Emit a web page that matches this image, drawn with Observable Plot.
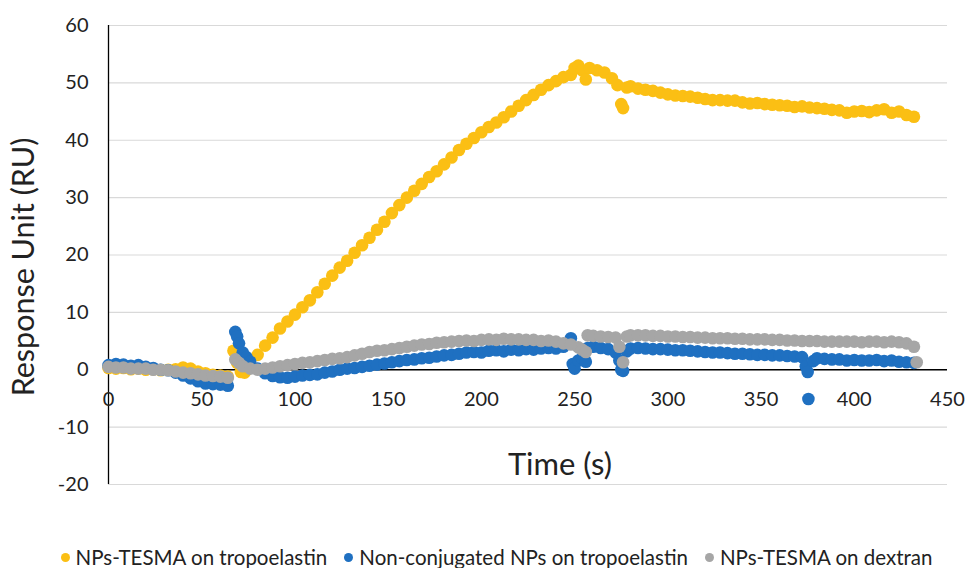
<!DOCTYPE html>
<html>
<head>
<meta charset="utf-8">
<script src="https://cdn.jsdelivr.net/npm/d3@7"></script>
<script src="https://cdn.jsdelivr.net/npm/@observablehq/plot@0.6"></script>
<style>
  html, body { margin: 0; padding: 0; background: #fff; }
  #chart { width: 967px; }
  .legend { display: flex; justify-content: center; align-items: center; gap: 17px;
            font-family: Lato, "Open Sans", sans-serif; font-size: 20.5px; color: #222;
            margin-top: 20px; line-height: 24px; padding-left: 26px; }
  .legend span.item { display: inline-flex; align-items: center; gap: 6px; }
  .legend i { display: inline-block; width: 9px; height: 9px; border-radius: 50%; }
</style>
</head>
<body>
<div id="chart"></div>
<script>
const seriesNames = ["NPs-TESMA on tropoelastin", "Non-conjugated NPs on tropoelastin", "NPs-TESMA on dextran"];
const seriesColors = ["#fbbf14", "#1f70c1", "#a6a6a6"];
const xTicks = [0, 50, 100, 150, 200, 250, 300, 350, 400, 450];
const yTicks = [-20, -10, 0, 10, 20, 30, 40, 50, 60];

// [time (s), response (RU)]
const tesmaTropo = [
  [0,0.3],[4,0.2],[8,0.3],[12,0.1],[16,0.2],[20,0.0],[24,0.1],[28,-0.1],[32,0.0],[36,0.1],
  [40,0.4],[44,0.2],[48,-0.3],[52,-0.6],[56,-0.9],[60,-1.0],[64,-1.2],
  [67,3.3],[69,1.2],[71,-0.4],[73,-0.5],[76,0.8],[80,2.6],[84,4.2],[88,5.6],[92,7.2],[96,8.4],
  [100,9.6],[104,10.9],[108,12.1],[112,13.5],[116,15.0],[120,16.4],[124,17.8],[128,19.0],
  [132,20.4],[136,21.7],[140,23.0],[144,24.4],[148,25.8],[152,27.3],[156,28.7],[160,30.0],
  [164,31.2],[168,32.4],[172,33.6],[176,34.6],[180,35.8],[184,37.0],[188,38.3],[192,39.4],
  [196,40.4],[200,41.4],[204,42.3],[208,43.1],[212,44.0],[216,45.0],[220,46.0],[224,47.0],
  [228,47.9],[232,48.8],[236,49.6],[240,50.3],[244,51.0],[248,51.4],[250,52.6],[252,53.0],
  [254,52.2],[256,50.6],[258,52.6],[262,52.2],[266,51.8],[270,50.8],[273,49.6],[275,46.3],
  [276,45.6],[278,49.2],[280,49.4],[284,49.0],[288,48.8],[292,48.6],[296,48.3],[300,48.0],
  [304,47.8],[308,47.7],[312,47.6],[316,47.4],[320,47.2],[324,47.0],[328,47.0],[332,46.9],
  [336,46.9],[340,46.6],[344,46.4],[348,46.5],[352,46.3],[356,46.2],[360,46.1],[364,46.0],
  [368,45.8],[372,45.9],[376,45.7],[380,45.6],[384,45.5],[388,45.3],[392,45.2],[396,44.8],
  [400,45.0],[404,45.1],[408,44.9],[412,45.2],[416,45.4],[420,44.8],[424,45.0],[428,44.4],[432,44.1]
];

const plainTropo = [
  [0,0.8],[4,1.0],[8,0.9],[12,0.7],[16,0.8],[20,0.5],[24,0.3],[28,0.0],[32,-0.1],[36,-0.5],
  [40,-1.0],[44,-1.5],[48,-2.0],[52,-2.4],[56,-2.5],[60,-2.6],[64,-2.8],
  [68,6.6],[69,5.8],[70,4.6],[72,3.0],[74,2.2],[76,1.4],[80,0.2],[84,-0.6],[88,-1.1],[92,-1.3],
  [96,-1.4],[100,-1.2],[104,-1.0],[108,-0.9],[112,-0.8],[116,-0.5],[120,-0.3],[124,0.0],
  [128,0.2],[132,0.3],[136,0.5],[140,0.7],[144,0.9],[148,1.1],[152,1.3],[156,1.5],[160,1.7],
  [164,1.8],[168,2.0],[172,2.1],[176,2.3],[180,2.5],[184,2.6],[188,2.8],[192,3.0],[196,3.1],
  [200,3.0],[204,3.3],[208,3.4],[212,3.2],[216,3.5],[220,3.4],[224,3.6],[228,3.5],[232,3.7],
  [236,3.8],[240,3.7],[244,4.0],[248,5.5],[249,1.0],[250,0.2],[252,1.6],[254,2.0],[256,1.4],
  [257,3.8],[260,4.0],[264,3.8],[268,3.6],[272,3.0],[274,1.6],[275,0.0],[276,-0.2],[278,3.2],
  [280,3.7],[284,3.8],[288,3.7],[292,3.6],[296,3.6],[300,3.5],[304,3.4],[308,3.4],[312,3.3],
  [316,3.2],[320,3.1],[324,3.0],[328,3.0],[332,2.9],[336,2.8],[340,2.8],[344,2.7],[348,2.6],
  [352,2.6],[356,2.5],[360,2.5],[364,2.4],[368,2.3],[372,2.2],[374,0.6],[375,-0.4],[375.4,-5.1],
  [378,1.5],[380,2.0],[384,1.9],[388,1.8],[392,1.8],[396,1.6],[400,1.7],[404,1.6],[408,1.6],
  [412,1.7],[416,1.5],[420,1.6],[424,1.4],[428,1.3],[432,1.2]
];

const tesmaDextran = [
  [0,0.5],[4,0.4],[8,0.4],[12,0.2],[16,0.2],[20,0.2],[24,0.0],[28,0.0],[32,-0.1],[36,-0.3],
  [40,-0.5],[44,-0.6],[48,-0.8],[52,-1.0],[56,-1.1],[60,-1.2],[64,-1.4],
  [68,1.8],[70,1.2],[72,0.6],[76,0.2],[80,0.0],[84,0.2],[88,0.4],[92,0.6],[96,0.8],[100,1.0],
  [104,1.2],[108,1.3],[112,1.5],[116,1.7],[120,1.9],[124,2.0],[128,2.2],[132,2.5],[136,2.8],
  [140,3.1],[144,3.3],[148,3.4],[152,3.6],[156,3.8],[160,4.0],[164,4.2],[168,4.4],[172,4.5],
  [176,4.7],[180,4.8],[184,4.9],[188,5.0],[192,5.1],[196,5.0],[200,5.2],[204,5.3],[208,5.2],
  [212,5.4],[216,5.3],[220,5.3],[224,5.2],[228,5.2],[232,5.0],[236,5.1],[240,4.9],[244,4.6],
  [248,4.4],[252,3.9],[254,3.5],[256,3.1],[257,6.0],[260,5.9],[264,5.8],[268,5.7],[272,5.6],
  [274,4.0],[276,1.3],[278,5.8],[280,6.0],[284,6.0],[288,6.0],[292,5.9],[296,5.9],[300,5.8],
  [304,5.8],[308,5.7],[312,5.7],[316,5.6],[320,5.6],[324,5.5],[328,5.5],[332,5.5],[336,5.4],
  [340,5.4],[344,5.3],[348,5.3],[352,5.3],[356,5.2],[360,5.2],[364,5.1],[368,5.1],[372,5.0],
  [376,5.0],[380,5.0],[384,4.9],[388,4.9],[392,4.9],[396,4.9],[400,4.9],[404,4.8],[408,4.9],
  [412,4.9],[416,4.8],[420,4.9],[424,4.8],[428,4.6],[432,4.0],[433.5,1.3]
];

const yLabel = "Response Unit (RU)";
const xLabel = "Time (s)";

const seriesData = [tesmaTropo, plainTropo, tesmaDextran];
const font = "Lato, 'Open Sans', sans-serif";

const dotMarks = seriesData.map((arr, i) =>
  Plot.dot(arr, {x: d => d[0], y: d => d[1], r: 6.3, fill: seriesColors[i], stroke: null})
);

const chart = Plot.plot({
  width: 967,
  height: 525,
  marginTop: 25,
  marginBottom: 41,
  marginLeft: 108,
  marginRight: 20,
  style: {fontFamily: font, fontSize: "20px", color: "#222", background: "#fff"},
  x: {domain: [0, 450], axis: null},
  y: {domain: [-20, 60], ticks: yTicks, label: null},
  marks: [
    Plot.gridY(yTicks, {stroke: "#d9d9d9", strokeOpacity: 1, strokeWidth: 1.2}),
    Plot.axisY(yTicks, {tickSize: 0, tickPadding: 20, label: null, fontSize: 20, fill: "#222", tickFormat: d => String(d)}),
    Plot.ruleY([0], {stroke: "#000", strokeWidth: 1.3}),
    Plot.ruleX([0], {stroke: "#000", strokeWidth: 1.3}),
    Plot.text(xTicks, {x: d => d, y: 0, dy: 30, text: d => String(d), fontSize: 20, fill: "#222"}),
    ...dotMarks,
    Plot.text([yLabel], {frameAnchor: "left", textAnchor: "middle", lineAnchor: "middle", rotate: -90, dx: -84.5, dy: 12, text: d => d, fontSize: 30.5, fill: "#222"}),
    Plot.text([xLabel], {frameAnchor: "bottom", textAnchor: "middle", lineAnchor: "middle", dx: 32, dy: -19, text: d => d, fontSize: 31, fill: "#222"})
  ]
});

document.getElementById("chart").appendChild(chart);

const legend = document.createElement("div");
legend.className = "legend";
seriesNames.forEach((name, i) => {
  const item = document.createElement("span");
  item.className = "item";
  const dot = document.createElement("i");
  dot.style.background = seriesColors[i];
  const label = document.createElement("span");
  label.textContent = name;
  item.appendChild(dot);
  item.appendChild(label);
  legend.appendChild(item);
});
document.getElementById("chart").appendChild(legend);
</script>
</body>
</html>
